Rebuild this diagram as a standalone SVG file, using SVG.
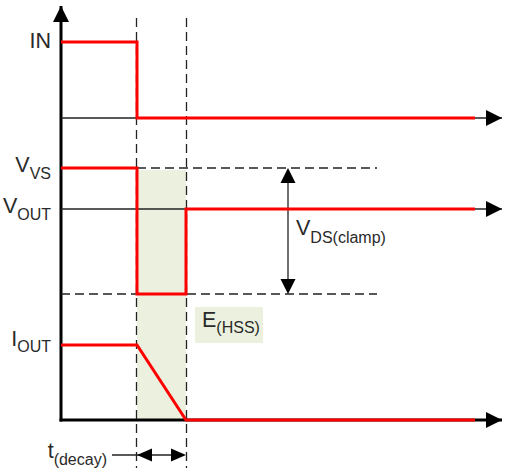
<svg xmlns="http://www.w3.org/2000/svg" width="507" height="476" viewBox="0 0 507 476">
<style>
.lbl{font-family:"Liberation Sans",Arial,sans-serif;font-size:21.5px;fill:#2a2a2a}
.sub{font-size:16px}
.sig{fill:none;stroke:#ff0000;stroke-width:3;stroke-linejoin:miter}
.thin{stroke:#222;stroke-width:1.3;fill:none}
.axis{stroke:#000;stroke-width:3;fill:none}
.dash{stroke:#222;stroke-width:1.3;fill:none;stroke-dasharray:9,5}
.head{fill:#000}
</style>
<defs>
<marker id="ah" markerWidth="16" markerHeight="16" viewBox="0 0 16 16" refX="16" refY="8" orient="auto" markerUnits="userSpaceOnUse">
<path d="M0,0 L16,8 L0,16 Z" fill="#000"/>
</marker>
</defs>
<rect id="shade" x="137" y="170" width="49" height="250" fill="#ebf1de"/>
<g id="connectors">
<line class="axis" x1="61" y1="421.5" x2="61" y2="6" marker-end="url(#ah)"/>
<line class="axis" x1="59.5" y1="420" x2="502" y2="420" marker-end="url(#ah)"/>
<line class="thin" x1="61" y1="118" x2="502" y2="118" marker-end="url(#ah)"/>
<line class="thin" x1="61" y1="209" x2="502" y2="209" marker-end="url(#ah)"/>
<line class="dash" x1="136.5" y1="18" x2="136.5" y2="468"/>
<line class="dash" x1="186.5" y1="18" x2="186.5" y2="468"/>
<line class="dash" x1="137" y1="168" x2="377" y2="168"/>
<line class="dash" x1="61" y1="294" x2="377" y2="294"/>
<line class="thin" x1="288" y1="180" x2="288" y2="282"/>
<polygon class="head" points="288,168 295.5,183 280.5,183"/>
<polygon class="head" points="288,294 295.5,279 280.5,279"/>
<line class="thin" x1="112" y1="455" x2="180" y2="455"/>
<polygon class="head" points="137,455 152,448.5 152,461.5"/>
<polygon class="head" points="186,455 171,448.5 171,461.5"/>
</g>
<g id="signal-in">
<polyline class="sig" points="61,42 137,42 137,118 475,118"/>
</g>
<g id="signal-vout">
<polyline class="sig" points="61,168 137,168 137,294 186,294 186,209 475,209"/>
</g>
<g id="signal-iout">
<polyline class="sig" points="61,345 137,345 186,420 475,420"/>
</g>
<g id="label-in"><text class="lbl" x="51" y="48" text-anchor="end">IN</text></g>
<g id="label-vvs"><text class="lbl" x="51" y="172" text-anchor="end">V<tspan class="sub" dy="7">VS</tspan></text></g>
<g id="label-vout"><text class="lbl" x="51" y="213" text-anchor="end">V<tspan class="sub" dy="7">OUT</tspan></text></g>
<g id="label-iout"><text class="lbl" x="51" y="346" text-anchor="end">I<tspan class="sub" dy="6">OUT</tspan></text></g>
<g id="label-ehss">
<rect x="195" y="307" width="68" height="36" fill="#ebf1de"/>
<text class="lbl" x="202" y="327">E<tspan class="sub" dy="6">(HSS)</tspan></text>
</g>
<g id="label-vds"><text class="lbl" x="296" y="235">V<tspan class="sub" dy="8">DS(clamp)</tspan></text></g>
<g id="label-tdecay"><text class="lbl" x="107" y="458" text-anchor="end">t<tspan class="sub" dy="7">(decay)</tspan></text></g>
</svg>
